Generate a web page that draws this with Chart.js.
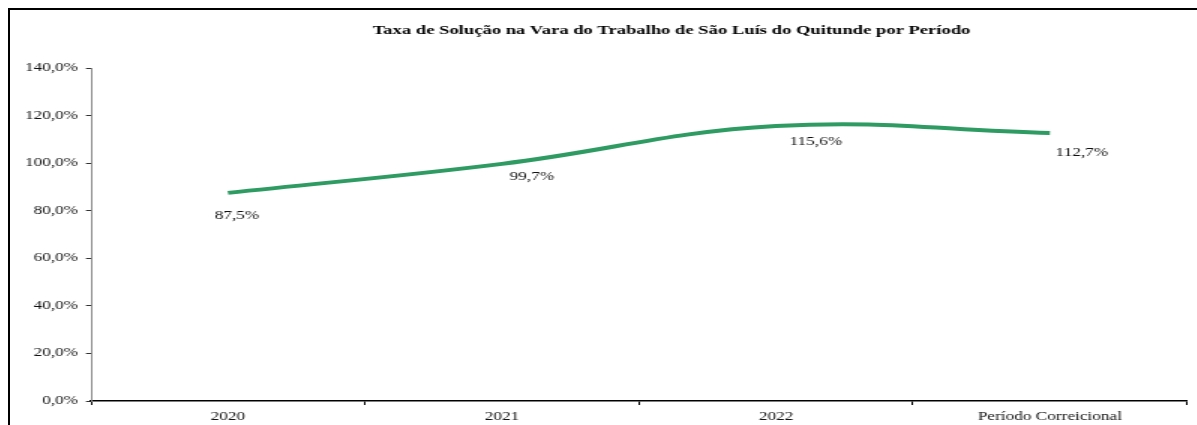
<!DOCTYPE html>
<html>
<head>
<meta charset="utf-8">
<script src="https://cdn.jsdelivr.net/npm/chart.js@4/dist/chart.umd.min.js"></script>
<style>
  html, body { margin: 0; padding: 0; background: #fff; }
  body { width: 1197px; height: 425px; overflow: hidden; position: relative; }
  .frame {
    position: absolute; left: 8px; top: 8px;
    width: 1189px; height: 417px;
    border-top: 2px solid #000; border-left: 2px solid #000;
    overflow: hidden;
  }
  /* the reference is stretched sideways, so the chart is drawn narrow and scaled */
  .stretch {
    width: 791.33px; height: 415px;
    transform: scaleX(1.5); transform-origin: 0 0;
  }
</style>
</head>
<body>
<div class="frame">
  <div class="stretch"><canvas id="chart"></canvas></div>
</div>
<script>
// ===== data =====
const titleText = "Taxa de Solução na Vara do Trabalho de São Luís do Quitunde por Período";
const periods = ["2020", "2021", "2022", "Período Correicional"];
const solutionRate = [87.5, 99.7, 115.6, 112.7];
const yTicks = [0, 20, 40, 60, 80, 100, 120, 140];

const SX = 1.5;              // horizontal stretch
const serif = "'Liberation Serif', 'Times New Roman', serif";
const lineColor = "#2e9b63";

// label offsets below each point (page pixels)
const labelDx = [9, 30, 40, 32];
const labelDy = [23, 13, 16, 20];

const fmt = v => v.toFixed(1).replace(".", ",") + "%";

Chart.defaults.font.family = serif;
Chart.defaults.color = "#111";

const titlePlugin = {
  id: "titleText",
  afterDraw(chart) {
    const ctx = chart.ctx;
    ctx.save();
    ctx.font = "bold 12.4px " + serif;
    ctx.fillStyle = "#000";
    ctx.textAlign = "center";
    ctx.textBaseline = "middle";
    ctx.fillText(titleText, 441, 21);
    ctx.restore();
  }
};

const valueLabels = {
  id: "valueLabels",
  afterDatasetsDraw(chart) {
    const ctx = chart.ctx;
    const meta = chart.getDatasetMeta(0);
    ctx.save();
    ctx.font = "11.5px " + serif;
    ctx.fillStyle = "#111";
    ctx.textAlign = "center";
    ctx.textBaseline = "middle";
    meta.data.forEach((pt, i) => {
      ctx.fillText(fmt(solutionRate[i]), pt.x + labelDx[i] / SX, pt.y + labelDy[i]);
    });
    ctx.restore();
  }
};

new Chart(document.getElementById("chart"), {
  type: "line",
  data: {
    labels: periods,
    datasets: [{
      data: solutionRate,
      borderColor: lineColor,
      borderWidth: 4,
      tension: 0.4,
      pointRadius: 0,
      fill: false
    }]
  },
  options: {
    responsive: true,
    maintainAspectRatio: false,
    animation: false,
    layout: { padding: { top: 58, left: 0, right: 6.7, bottom: 0 } },
    plugins: {
      legend: { display: false },
      title: { display: false },
      tooltip: { enabled: false }
    },
    scales: {
      x: {
        offset: true,
        grid: { offset: true, drawOnChartArea: false, tickLength: 4, tickColor: "#000" },
        border: { color: "#000", width: 1.5 },
        ticks: { font: { size: 11.5 }, color: "#111", padding: 5, maxRotation: 0, autoSkip: false },
        afterFit: s => { s.height = 24; }
      },
      y: {
        min: 0,
        max: 140,
        afterBuildTicks: s => { s.ticks = yTicks.map(v => ({ value: v })); },
        grid: { drawOnChartArea: false, tickLength: 5 / SX, tickColor: "#333" },
        border: { color: "#888", width: 1 },
        ticks: { font: { size: 11.5 }, color: "#111", padding: 8 / SX, callback: v => fmt(v) },
        afterFit: s => { s.width = 54; }
      }
    }
  },
  plugins: [titlePlugin, valueLabels]
});
</script>
</body>
</html>
